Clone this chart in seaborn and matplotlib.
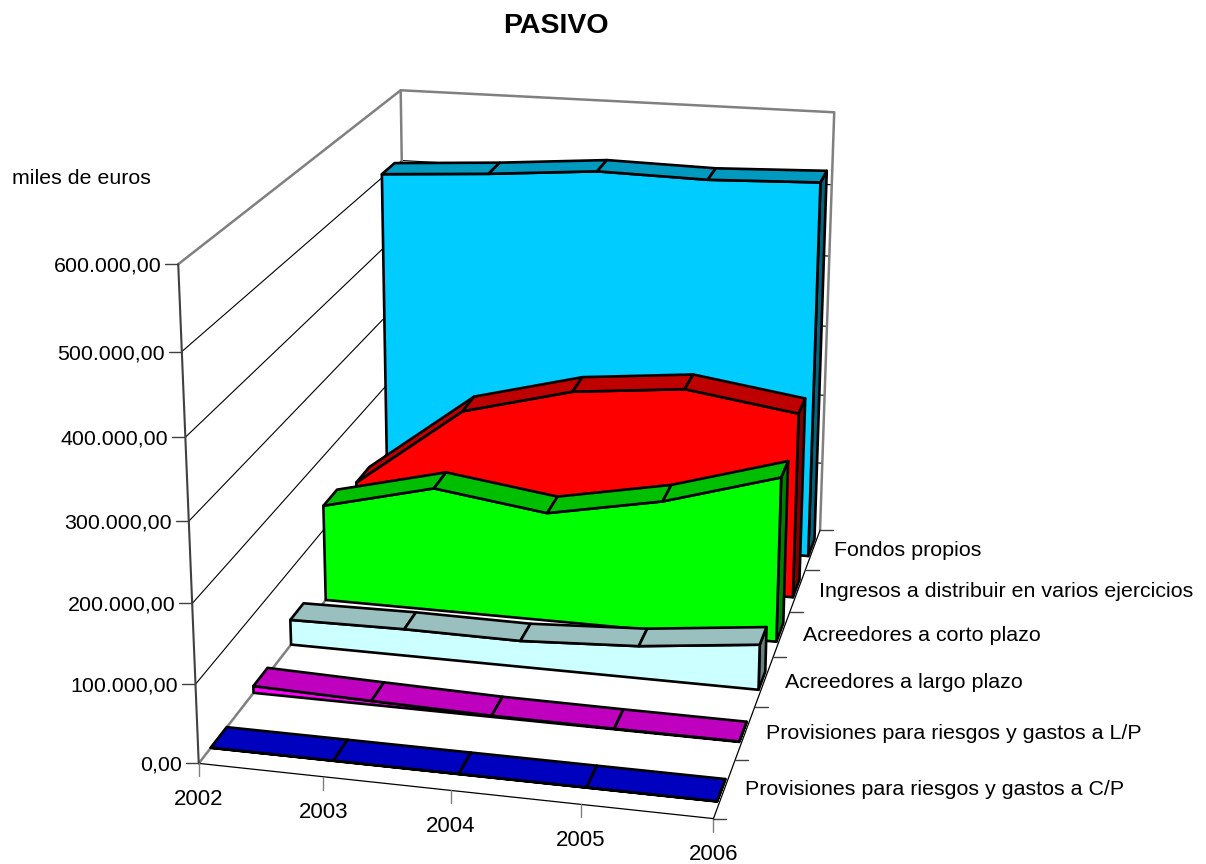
import numpy as np
import matplotlib
matplotlib.use("Agg")
import matplotlib.pyplot as plt
import seaborn as sns

sns.set_theme(style="white")
plt.rcParams["font.family"] = ["Liberation Sans", "DejaVu Sans"]
plt.rcParams["text.color"] = "black"

# ── DATA ─────────────────────────────────────────────────────────────
years = ["2002", "2003", "2004", "2005", "2006"]
series_names = [
    "Provisiones para riesgos y gastos a C/P",
    "Provisiones para riesgos y gastos a L/P",
    "Acreedores a largo plazo",
    "Acreedores a corto plazo",
    "Ingresos a distribuir en varios ejercicios",
    "Fondos propios",
]
prov_cp = [300, 300, 300, 300, 300]
prov_lp = [9000, 5000, 1500, 700, 500]
acre_lp = [34000, 36000, 35000, 43000, 60000]
acre_cp = [133000, 170000, 149000, 178000, 223000]
ingresos = [111000, 225000, 264000, 279000, 257000]
fondos = [505000, 514000, 526000, 523000, 528000]
series_values = [prov_cp, prov_lp, acre_lp, acre_cp, ingresos, fondos]

face_colors = ["#0000FF", "#FF00FF", "#CCFFFF", "#00FF00", "#FF0000", "#00CCFF"]
top_colors = ["#0000BF", "#BF00BF", "#99BFBF", "#00BF00", "#BF0000", "#0099BF"]
end_colors = ["#000080", "#800080", "#668080", "#008000", "#800000", "#006680"]

value_ticks = [0, 100000, 200000, 300000, 400000, 500000, 600000]
value_labels = ["0,00", "100.000,00", "200.000,00", "300.000,00",
                "400.000,00", "500.000,00", "600.000,00"]

# camera calibration: (category, depth, value) against reference pixels
cal_world = [(0, 0, 0), (1, 0, 0), (2, 0, 0), (3, 0, 0), (4, 0, 0),
             (4, 1, 0), (4, 2, 0), (4, 3, 0), (4, 4, 0), (4, 5, 0), (4, 6, 0),
             (0, 6, 0), (0, 0, 600000), (4, 6, 600000), (0, 6, 600000),
             (0, 0, 300000)]
cal_pixel = [(199, 764), (323, 777), (450, 790), (580, 804), (712, 818),
             (738, 760), (755, 707), (773, 657), (790, 612), (807, 570), (818, 531),
             (407, 495), (178, 265), (834, 112), (401, 90),
             (189, 521)]

# where each band sits inside its depth slot
DEPTH_FRONT = [0.28, 0.33, 0.33, 0.33, 0.33, 0.33]
DEPTH_BACK = [0.66, 0.70, 0.70, 0.74, 0.75, 0.76]
X_SCALE = 0.995   # areas stop just short of the last category tick
GREY = "#808080"
DARK = "#404040"
LW = 1.9
TXT = 15.4
TXT_DY = 2


# ── PROJECTION ───────────────────────────────────────────────────────
def fit_camera(world, pixel):
    rows = []
    for (x, z, v), (u, w) in zip(world, pixel):
        p = [x, z, v / 100000, 1]
        u, w = u / 1000, w / 1000
        rows.append(p + [0, 0, 0, 0] + [-u * c for c in p])
        rows.append([0, 0, 0, 0] + p + [-w * c for c in p])
    return np.linalg.svd(np.array(rows))[2][-1].reshape(3, 4)


CAM = fit_camera(cal_world, cal_pixel)


def proj(x, z, v):
    x, z, v = np.broadcast_arrays(np.asarray(x, float), np.asarray(z, float), np.asarray(v, float))
    h = CAM @ np.vstack([x.ravel(), z.ravel(), v.ravel() / 100000, np.ones(x.size)])
    return h[0] / h[2] * 1000, h[1] / h[2] * 1000


def line(ax, x, z, v, color="black", lw=LW, zorder=2):
    px, py = proj(x, z, v)
    sns.lineplot(x=px, y=py, sort=False, estimator=None, color=color,
                 linewidth=lw, legend=False, ax=ax, zorder=zorder)


def poly(ax, x, z, v, color, zorder):
    px, py = proj(x, z, v)
    ax.fill(px, py, facecolor=color, edgecolor="black", linewidth=LW,
            joinstyle="round", zorder=zorder)


# ── FIGURE ───────────────────────────────────────────────────────────
fig = plt.figure(figsize=(12.06, 8.64), dpi=100)
ax = fig.add_axes([0, 0, 1, 1])
top_val = value_ticks[-1]
n_x = len(years) - 1
n_z = len(series_names)

# gridlines on the two walls
for v in value_ticks[1:-1]:
    line(ax, [0, 0, n_x], [0, n_z, n_z], [v, v, v], lw=0.8, zorder=1)

# wall outline and floor edges
line(ax, [0, 0, n_x, n_x], [0, n_z, n_z, n_z], [top_val, top_val, top_val, 0],
     color=GREY, lw=1.8, zorder=1)
line(ax, [0, 0], [n_z, n_z], [0, top_val], color=GREY, lw=1.8, zorder=1)
line(ax, [0, 0], [0, n_z], [0, 0], color=GREY, lw=1.8, zorder=1)
line(ax, [0, 0], [0, 0], [0, top_val], color=DARK, lw=1.5, zorder=1)
line(ax, [0, n_x], [0, 0], [0, 0], lw=0.9, zorder=1)
line(ax, [n_x, n_x], [0, n_z], [0, 0], lw=0.9, zorder=1)

# axis ticks and labels
for v, lab in zip(value_ticks, value_labels):
    px, py = proj(0, 0, v)
    ax.plot([px[0] - 13, px[0]], [py[0], py[0]], color=DARK, lw=1.0, zorder=1)
    ax.text(px[0] - 17, py[0] + TXT_DY, lab, ha="right", va="center", fontsize=TXT)

for i, lab in enumerate(years):
    px, py = proj(i, 0, 0)
    ax.plot([px[0], px[0]], [py[0], py[0] + 13], color=GREY, lw=1.0, zorder=1)
    ax.text(px[0], py[0] + 34 + TXT_DY, lab, ha="center", va="center", fontsize=16)

for k in range(n_z + 1):
    px, py = proj(n_x, k, 0)
    ax.plot([px[0], px[0] + 13], [py[0], py[0]], color=DARK, lw=1.0, zorder=1)
for k, lab in enumerate(series_names):
    px, py = proj(n_x, k + 0.5, 0)
    ax.text(px[0] + 21, py[0] + TXT_DY - 1, lab, ha="left", va="center", fontsize=TXT)

# series, painted back to front
xs = np.arange(len(years)) * X_SCALE
x_end = xs[-1]
for k in range(n_z - 1, -1, -1):
    vals = np.array(series_values[k], float)
    zf, zb = k + DEPTH_FRONT[k], k + DEPTH_BACK[k]
    base = 10 + (n_z - k) * 5
    # right end cap
    poly(ax, [x_end] * 4, [zf, zb, zb, zf], [0, 0, vals[-1], vals[-1]],
         end_colors[k], base)
    # front face
    poly(ax, np.r_[xs, xs[::-1]], np.full(2 * len(xs), zf), np.r_[vals, np.zeros(len(xs))],
         face_colors[k], base + 1)
    # top ribbon
    for i in range(n_x):
        poly(ax, [xs[i], xs[i + 1], xs[i + 1], xs[i]], [zf, zf, zb, zb],
             [vals[i], vals[i + 1], vals[i + 1], vals[i]], top_colors[k], base + 2)

ax.text(556, 26, "PASIVO", ha="center", va="center", fontsize=20.5, fontweight="bold")
ax.text(12, 179, "miles de euros", ha="left", va="center", fontsize=TXT)

ax.set_xlim(0, 1206)
ax.set_ylim(864, 0)
ax.axis("off")
fig.savefig("out.png", dpi=100, facecolor="white")
